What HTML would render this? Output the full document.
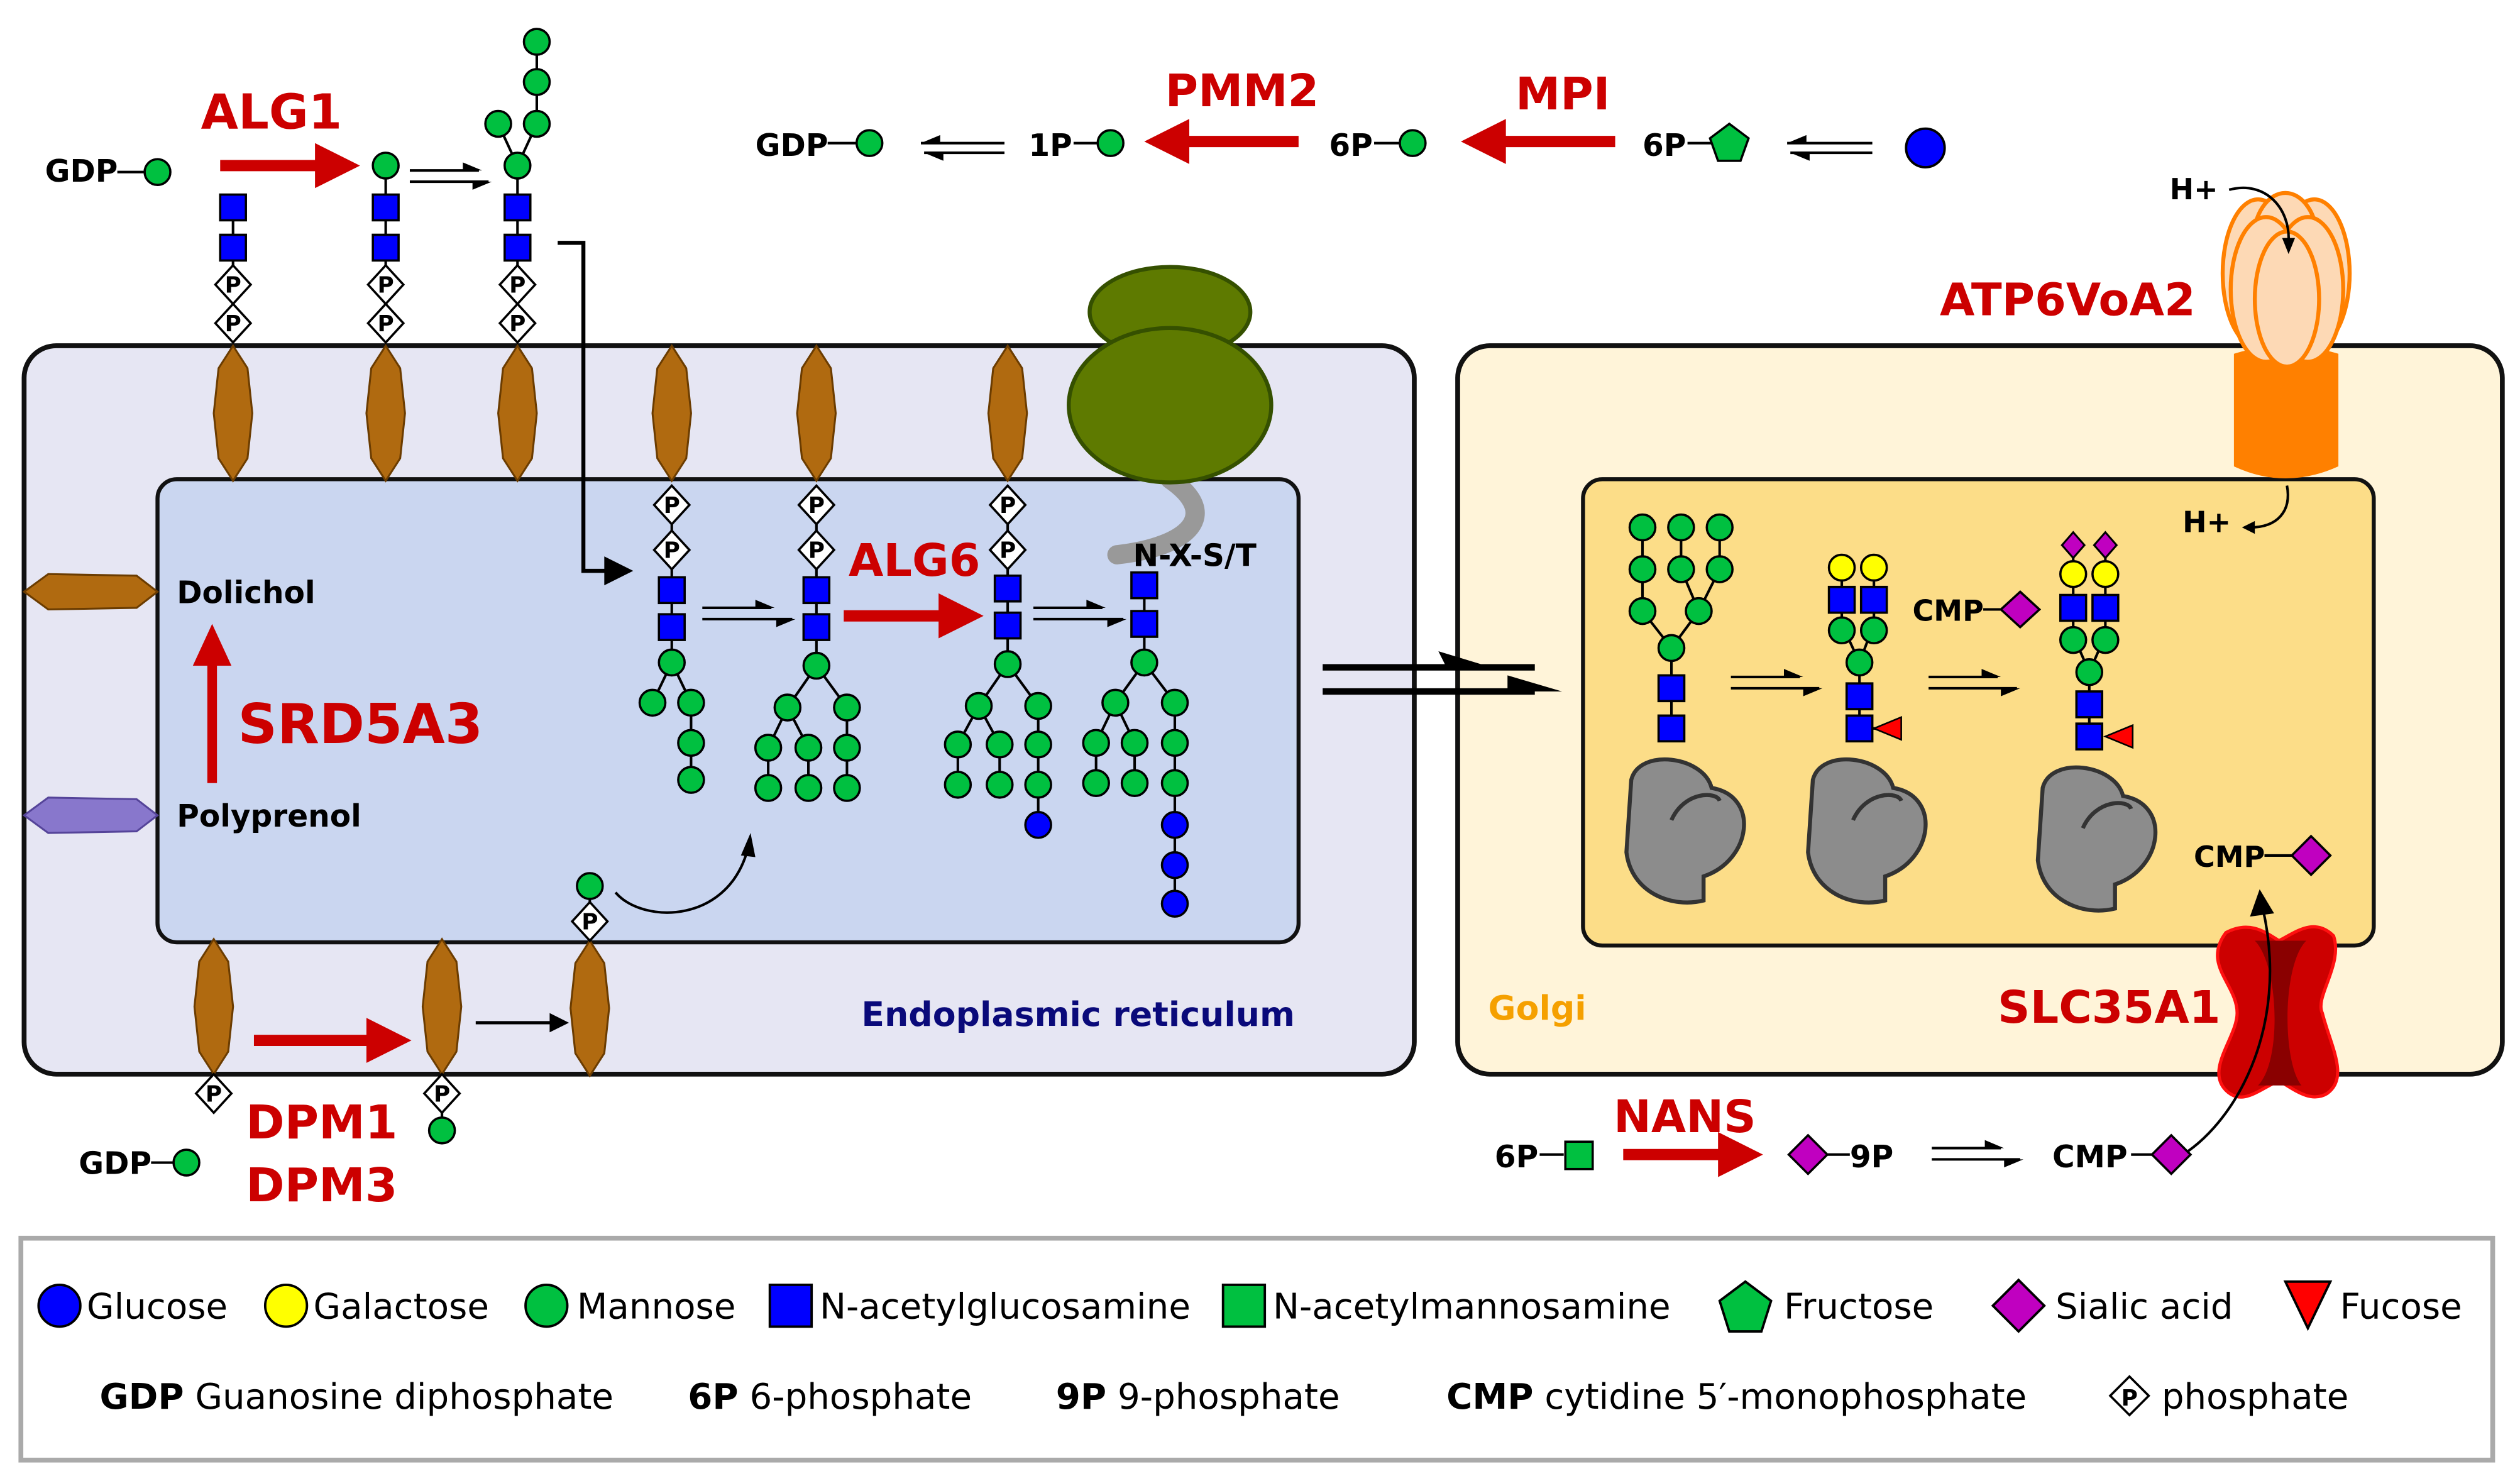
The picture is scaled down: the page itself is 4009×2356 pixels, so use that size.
<!DOCTYPE html>
<html><head><meta charset="utf-8"><style>
html,body{margin:0;padding:0;background:#fff;width:4009px;height:2356px;overflow:hidden}
svg{display:block}
text{font-family:"DejaVu Sans","Liberation Sans",sans-serif}
.b{font-weight:bold}
.r{fill:#cc0000;font-weight:bold}
.ln{stroke:#000;stroke-width:1.6;fill:none}
.m{fill:#00c040;stroke:#000;stroke-width:1.4}
.gl{fill:#0000ff;stroke:#000;stroke-width:1.4}
.y{fill:#ffff00;stroke:#000;stroke-width:1.4}
.pd{fill:#fff;stroke:#000;stroke-width:1.4}
.pt{font-size:14px;font-weight:bold;text-anchor:middle}
.dol{fill:#b06a10;stroke:#6b3c00;stroke-width:1.2}
</style></head><body>
<svg width="4009" height="2356" viewBox="0 0 1568 921" preserveAspectRatio="none" xmlns="http://www.w3.org/2000/svg">
<defs>
<g id="dv"><polygon class="dol" points="0,-42 9,-28 12,0 9,28 0,42 -9,28 -12,0 -9,-28"/></g>
</defs>
<!-- boxes -->
<rect x="15" y="215" width="865" height="453" rx="20" fill="#e6e6f3" stroke="#111" stroke-width="3"/>
<rect x="98" y="298" width="710" height="288" rx="12" fill="#cad6f0" stroke="#111" stroke-width="2.5"/>
<rect x="907" y="215" width="650" height="453" rx="20" fill="#fff4d9" stroke="#111" stroke-width="3"/>
<rect x="985" y="298" width="492" height="290" rx="12" fill="#fcdd88" stroke="#111" stroke-width="2.5"/>
<rect x="13" y="770" width="1538" height="138" fill="#fff" stroke="#aaa" stroke-width="3"/>

<!-- dolichols top -->
<use href="#dv" x="145" y="257"/><use href="#dv" x="240" y="257"/><use href="#dv" x="322" y="257"/>
<use href="#dv" x="418" y="257"/><use href="#dv" x="508" y="257"/><use href="#dv" x="627" y="257"/>
<use href="#dv" x="133" y="626"/><use href="#dv" x="275" y="626"/><use href="#dv" x="367" y="627"/>
<polygon class="dol" points="15,368 30,357 85,358 98,368 85,378 30,379"/>
<polygon points="15,507 30,496 85,497 98,507 85,517 30,518" fill="#8877cc" stroke="#554499" stroke-width="1.2"/>

<!-- ribosome -->
<path d="M728,298 C760,320 740,340 695,345" stroke="#999" stroke-width="12" fill="none" stroke-linecap="round"/>
<ellipse cx="728" cy="194" rx="50" ry="28" fill="#5e7a00" stroke="#355000" stroke-width="2.5"/>
<ellipse cx="728" cy="252" rx="63" ry="48" fill="#5e7a00" stroke="#355000" stroke-width="2.5"/>

<!-- top-left chains -->
<g>
<path class="ln" d="M145,129V201"/>
<rect class="gl" x="137" y="121" width="16" height="16"/><rect class="gl" x="137" y="146" width="16" height="16"/>
<polygon class="pd" points="145,165 156,177 145,189 134,177"/><text class="pt" x="145" y="182">P</text>
<polygon class="pd" points="145,189 156,201 145,213 134,201"/><text class="pt" x="145" y="206">P</text>
<path class="ln" d="M240,103V201"/>
<circle class="m" cx="240" cy="103" r="8"/>
<rect class="gl" x="232" y="121" width="16" height="16"/><rect class="gl" x="232" y="146" width="16" height="16"/>
<polygon class="pd" points="240,165 251,177 240,189 229,177"/><text class="pt" x="240" y="182">P</text>
<polygon class="pd" points="240,189 251,201 240,213 229,201"/><text class="pt" x="240" y="206">P</text>
<path class="ln" d="M334,26V77L322,103V201M310,77L322,103"/>
<circle class="m" cx="334" cy="26" r="8"/><circle class="m" cx="334" cy="51" r="8"/><circle class="m" cx="334" cy="77" r="8"/>
<circle class="m" cx="310" cy="77" r="8"/><circle class="m" cx="322" cy="103" r="8"/>
<rect class="gl" x="314" y="121" width="16" height="16"/><rect class="gl" x="314" y="146" width="16" height="16"/>
<polygon class="pd" points="322,165 333,177 322,189 311,177"/><text class="pt" x="322" y="182">P</text>
<polygon class="pd" points="322,189 333,201 322,213 311,201"/><text class="pt" x="322" y="206">P</text>
</g>
<text class="b" x="28" y="113" font-size="19">GDP</text><path class="ln" d="M73,107H90"/><circle class="m" cx="98" cy="107" r="8"/>
<text class="r" x="125" y="80" font-size="30">ALG1</text>
<path d="M137,103H200" stroke="#cc0000" stroke-width="7"/><polygon points="196,89 224,103 196,117" fill="#cc0000"/>
<path class="ln" d="M255,106H298M255,113H304"/><polygon points="288,101 300,106 288,106"/><polygon points="294,113 306,113 294,118"/>
<!-- bracket arrow -->
<path d="M347,151H363V355H380" stroke="#000" stroke-width="2.5" fill="none"/><polygon points="376,346 394,355 376,364"/>

<!-- top pathway -->
<text class="b" x="470" y="97" font-size="19">GDP</text><path class="ln" d="M515,89H533"/><circle class="m" cx="541" cy="89" r="8"/>
<path class="ln" d="M573,89H625M575,95H625"/><polygon points="573,89 585,84 585,89"/><polygon points="575,95 587,95 587,100"/>
<text class="b" x="640" y="97" font-size="19">1P</text><path class="ln" d="M668,89H683"/><circle class="m" cx="691" cy="89" r="8"/>
<text class="r" x="725" y="66" font-size="28">PMM2</text>
<path d="M808,88H735" stroke="#cc0000" stroke-width="7"/><polygon points="740,74 712,88 740,102" fill="#cc0000"/>
<text class="b" x="827" y="97" font-size="19">6P</text><path class="ln" d="M855,89H871"/><circle class="m" cx="879" cy="89" r="8"/>
<text class="r" x="943" y="68" font-size="28">MPI</text>
<path d="M1005,88H932" stroke="#cc0000" stroke-width="7"/><polygon points="937,74 909,88 937,102" fill="#cc0000"/>
<text class="b" x="1022" y="97" font-size="19">6P</text><path class="ln" d="M1050,89H1066"/>
<polygon points="1076,77 1088,86 1083,100 1069,100 1064,86" fill="#00c040" stroke="#000" stroke-width="1.4"/>
<path class="ln" d="M1112,89H1165M1114,95H1165"/><polygon points="1112,89 1124,84 1124,89"/><polygon points="1114,95 1126,95 1126,100"/>
<circle cx="1198" cy="92" r="12" fill="#0000ff" stroke="#000" stroke-width="1.5"/>

<!-- ER labels -->
<text class="b" x="110" y="375" font-size="19">Dolichol</text>
<text class="b" x="110" y="514" font-size="19">Polyprenol</text>
<path d="M132,487V410" stroke="#cc0000" stroke-width="6"/><polygon points="120,414 132,388 144,414" fill="#cc0000"/>
<text class="r" x="148" y="462" font-size="34">SRD5A3</text>
<text class="b" x="536" y="638" font-size="21" fill="#0a0a7a">Endoplasmic reticulum</text>
<text class="r" x="528" y="358" font-size="28">ALG6</text>
<text class="b" x="705" y="352" font-size="19">N-X-S/T</text>

<!-- ER chains -->
<g>
<path class="ln" d="M418,314V412L406,437M418,412L430,437V485"/>
<polygon class="pd" points="418,302 429,314 418,326 407,314"/><text class="pt" x="418" y="319">P</text>
<polygon class="pd" points="418,330 429,342 418,354 407,342"/><text class="pt" x="418" y="347">P</text>
<rect class="gl" x="410" y="359" width="16" height="16"/><rect class="gl" x="410" y="382" width="16" height="16"/>
<circle class="m" cx="418" cy="412" r="8"/><circle class="m" cx="406" cy="437" r="8"/><circle class="m" cx="430" cy="437" r="8"/>
<circle class="m" cx="430" cy="462" r="8"/><circle class="m" cx="430" cy="485" r="8"/>

<path class="ln" d="M508,314V414L490,440L478,465V490M490,440L503,465V490M508,414L527,440V490"/>
<polygon class="pd" points="508,302 519,314 508,326 497,314"/><text class="pt" x="508" y="319">P</text>
<polygon class="pd" points="508,330 519,342 508,354 497,342"/><text class="pt" x="508" y="347">P</text>
<rect class="gl" x="500" y="359" width="16" height="16"/><rect class="gl" x="500" y="382" width="16" height="16"/>
<circle class="m" cx="508" cy="414" r="8"/><circle class="m" cx="490" cy="440" r="8"/><circle class="m" cx="527" cy="440" r="8"/>
<circle class="m" cx="478" cy="465" r="8"/><circle class="m" cx="503" cy="465" r="8"/><circle class="m" cx="527" cy="465" r="8"/>
<circle class="m" cx="478" cy="490" r="8"/><circle class="m" cx="503" cy="490" r="8"/><circle class="m" cx="527" cy="490" r="8"/>

<path class="ln" d="M627,314V413L609,439L596,463V488M609,439L622,463V488M627,413L646,439V513"/>
<polygon class="pd" points="627,302 638,314 627,326 616,314"/><text class="pt" x="627" y="319">P</text>
<polygon class="pd" points="627,330 638,342 627,354 616,342"/><text class="pt" x="627" y="347">P</text>
<rect class="gl" x="619" y="358" width="16" height="16"/><rect class="gl" x="619" y="381" width="16" height="16"/>
<circle class="m" cx="627" cy="413" r="8"/><circle class="m" cx="609" cy="439" r="8"/><circle class="m" cx="646" cy="439" r="8"/>
<circle class="m" cx="596" cy="463" r="8"/><circle class="m" cx="622" cy="463" r="8"/><circle class="m" cx="646" cy="463" r="8"/>
<circle class="m" cx="596" cy="488" r="8"/><circle class="m" cx="622" cy="488" r="8"/><circle class="m" cx="646" cy="488" r="8"/>
<circle class="gl" cx="646" cy="513" r="8"/>

<path class="ln" d="M712,364V412L694,437L682,462V487M694,437L706,462V487M712,412L731,437V562"/>
<rect class="gl" x="704" y="356" width="16" height="16"/><rect class="gl" x="704" y="380" width="16" height="16"/>
<circle class="m" cx="712" cy="412" r="8"/><circle class="m" cx="694" cy="437" r="8"/><circle class="m" cx="731" cy="437" r="8"/>
<circle class="m" cx="682" cy="462" r="8"/><circle class="m" cx="706" cy="462" r="8"/><circle class="m" cx="731" cy="462" r="8"/>
<circle class="m" cx="682" cy="487" r="8"/><circle class="m" cx="706" cy="487" r="8"/><circle class="m" cx="731" cy="487" r="8"/>
<circle class="gl" cx="731" cy="513" r="8"/><circle class="gl" cx="731" cy="538" r="8"/><circle class="gl" cx="731" cy="562" r="8"/>
</g>
<!-- ER arrows -->
<path class="ln" d="M437,378H480M437,385H493"/><polygon points="470,373 482,378 470,378"/><polygon points="483,385 495,385 483,390"/>
<path d="M525,383H588" stroke="#cc0000" stroke-width="7"/><polygon points="584,369 612,383 584,397" fill="#cc0000"/>
<path class="ln" d="M643,378H686M643,385H699"/><polygon points="676,373 688,378 676,378"/><polygon points="689,385 701,385 689,390"/>
<path class="ln" d="M383,555 C400,575 455,575 466,525"/><polygon points="461,532 467,518 470,533"/>
<!-- dol-P-man in ER -->
<path class="ln" d="M367,551V573"/><circle class="m" cx="367" cy="551" r="8"/>
<polygon class="pd" points="367,561 378,573 367,585 356,573"/><text class="pt" x="367" y="578">P</text>
<!-- bottom DPM -->
<polygon class="pd" points="133,668 144,680 133,692 122,680"/><text class="pt" x="133" y="685">P</text>
<path class="ln" d="M275,680V703"/>
<polygon class="pd" points="275,668 286,680 275,692 264,680"/><text class="pt" x="275" y="685">P</text>
<circle class="m" cx="275" cy="703" r="8"/>
<path d="M158,647H230" stroke="#cc0000" stroke-width="7"/><polygon points="228,633 256,647 228,661" fill="#cc0000"/>
<path d="M296,636H345" stroke="#000" stroke-width="2"/><polygon points="342,630 354,636 342,642"/>
<text class="b" x="49" y="730" font-size="19">GDP</text><path class="ln" d="M94,723H108"/><circle class="m" cx="116" cy="723" r="8"/>
<text class="r" x="153" y="708" font-size="29">DPM1</text>
<text class="r" x="153" y="747" font-size="29">DPM3</text>

<!-- ER -> Golgi arrows -->
<path d="M823,415H955M823,430H955" stroke="#000" stroke-width="4"/>
<polygon points="895,405 928,415 900,415"/><polygon points="938,420 972,430 938,430"/>

<!-- ATP6V0A2 -->
<path d="M1390,220 Q1422,210 1455,220 V290 Q1422,305 1390,290Z" fill="#ff8000"/>
<ellipse cx="1405" cy="170" rx="22" ry="46" fill="#fdd9b5" stroke="#ff8000" stroke-width="2.5"/>
<ellipse cx="1440" cy="170" rx="22" ry="46" fill="#fdd9b5" stroke="#ff8000" stroke-width="2.5"/>
<ellipse cx="1422" cy="150" rx="20" ry="30" fill="#fdd9b5" stroke="#ff8000" stroke-width="2.5"/>
<ellipse cx="1410" cy="180" rx="22" ry="45" fill="#fdd9b5" stroke="#ff8000" stroke-width="2.5"/>
<ellipse cx="1436" cy="180" rx="22" ry="45" fill="#fdd9b5" stroke="#ff8000" stroke-width="2.5"/>
<ellipse cx="1423" cy="186" rx="20" ry="42" fill="#fdd9b5" stroke="#ff8000" stroke-width="2.5"/>
<text class="b" x="1350" y="124" font-size="18">H+</text>
<path class="ln" d="M1387,118 C1410,112 1425,130 1424,150"/><polygon points="1420,148 1424,158 1428,148"/>
<text class="r" x="1207" y="196" font-size="28">ATP6VoA2</text>
<text class="b" x="1358" y="331" font-size="18">H+</text>
<path class="ln" d="M1423,302 C1426,318 1417,328 1400,328"/><polygon points="1403,324 1395,328 1403,332"/>

<!-- Golgi glycans -->
<g>
<path class="ln" d="M1040,453V403L1022,380V328M1040,403L1057,380L1046,354V328M1057,380L1070,354V328"/>
<circle class="m" cx="1022" cy="328" r="8"/><circle class="m" cx="1046" cy="328" r="8"/><circle class="m" cx="1070" cy="328" r="8"/>
<circle class="m" cx="1022" cy="354" r="8"/><circle class="m" cx="1046" cy="354" r="8"/><circle class="m" cx="1070" cy="354" r="8"/>
<circle class="m" cx="1022" cy="380" r="8"/><circle class="m" cx="1057" cy="380" r="8"/><circle class="m" cx="1040" cy="403" r="8"/>
<rect class="gl" x="1032" y="420" width="16" height="16"/><rect class="gl" x="1032" y="445" width="16" height="16"/>

<path class="ln" d="M1157,453V412L1146,388V353M1157,412L1166,388V353M1157,453H1170"/>
<circle class="y" cx="1146" cy="353" r="8"/><circle class="y" cx="1166" cy="353" r="8"/>
<rect class="gl" x="1138" y="365" width="16" height="16"/><rect class="gl" x="1158" y="365" width="16" height="16"/>
<circle class="m" cx="1146" cy="392" r="8"/><circle class="m" cx="1166" cy="392" r="8"/><circle class="m" cx="1157" cy="412" r="8"/>
<rect class="gl" x="1149" y="425" width="16" height="16"/><rect class="gl" x="1149" y="445" width="16" height="16"/>
<polygon points="1166,453 1183,446 1183,460" fill="#f00" stroke="#000" stroke-width="1"/>

<path class="ln" d="M1300,458V418L1290,395V339M1300,418L1310,395V339"/>
<polygon points="1290,331 1297,339 1290,347 1283,339" fill="#c000c0" stroke="#000" stroke-width="1.2"/>
<polygon points="1310,331 1317,339 1310,347 1303,339" fill="#c000c0" stroke="#000" stroke-width="1.2"/>
<circle class="y" cx="1290" cy="357" r="8"/><circle class="y" cx="1310" cy="357" r="8"/>
<rect class="gl" x="1282" y="370" width="16" height="16"/><rect class="gl" x="1302" y="370" width="16" height="16"/>
<circle class="m" cx="1290" cy="398" r="8"/><circle class="m" cx="1310" cy="398" r="8"/><circle class="m" cx="1300" cy="418" r="8"/>
<rect class="gl" x="1292" y="430" width="16" height="16"/><rect class="gl" x="1292" y="450" width="16" height="16"/>
<polygon points="1310,458 1327,451 1327,465" fill="#f00" stroke="#000" stroke-width="1"/>
</g>
<!-- proteins -->
<g fill="#8c8c8c" stroke="#333" stroke-width="2.5">
<path d="M1015,485 C1020,465 1060,470 1065,490 C1095,495 1090,535 1060,545 L1060,560 C1040,565 1015,555 1012,530 Z"/>
<path d="M1128,485 C1133,465 1173,470 1178,490 C1208,495 1203,535 1173,545 L1173,560 C1153,565 1128,555 1125,530 Z"/>
<path d="M1271,490 C1276,470 1316,475 1321,495 C1351,500 1346,540 1316,550 L1316,565 C1296,570 1271,560 1268,535 Z"/>
</g>
<path d="M1040,510 C1048,492 1068,492 1070,498 M1153,510 C1161,492 1181,492 1183,498 M1296,515 C1304,497 1324,497 1326,503" stroke="#333" stroke-width="2.5" fill="none"/>
<path class="ln" d="M1077,421H1120M1077,428H1132"/><polygon points="1110,416 1122,421 1110,421"/><polygon points="1122,428 1134,428 1122,433"/>
<path class="ln" d="M1200,421H1243M1200,428H1255"/><polygon points="1233,416 1245,421 1233,421"/><polygon points="1245,428 1257,428 1245,433"/>
<text class="b" x="1190" y="386" font-size="18">CMP</text><path class="ln" d="M1234,379H1246"/>
<polygon points="1257,368 1269,379 1257,390 1245,379" fill="#c000c0" stroke="#000" stroke-width="1.4"/>
<text class="b" x="1365" y="539" font-size="18">CMP</text><path class="ln" d="M1409,532H1427"/>
<polygon points="1438,520 1450,532 1438,544 1426,532" fill="#c000c0" stroke="#000" stroke-width="1.4"/>
<text class="b" x="926" y="634" font-size="21" fill="#f5a000">Golgi</text>
<text class="r" x="1243" y="636" font-size="28">SLC35A1</text>

<!-- SLC35A1 -->
<path d="M1385,580 C1400,572 1410,580 1418,585 C1428,580 1440,570 1452,582 C1458,600 1440,620 1445,630 C1450,650 1462,670 1448,680 C1438,686 1428,678 1418,672 C1405,678 1395,688 1385,678 C1372,665 1392,645 1392,630 C1392,612 1370,600 1385,580 Z" fill="#cc0000" stroke="#ff1010" stroke-width="2"/>
<path d="M1403,585 C1418,600 1420,660 1405,675 L1432,675 C1420,660 1420,600 1435,585 Z" fill="#8a0000"/>
<path class="ln" d="M1355,720 C1390,700 1425,640 1408,565" stroke-width="2.5"/><polygon points="1400,570 1406,553 1415,568"/>

<!-- NANS -->
<text class="b" x="930" y="726" font-size="19">6P</text><path class="ln" d="M958,718H973"/>
<rect x="974" y="710" width="17" height="17" fill="#00c040" stroke="#000" stroke-width="1.4"/>
<text class="r" x="1004" y="704" font-size="28">NANS</text>
<path d="M1010,718H1072" stroke="#cc0000" stroke-width="7"/><polygon points="1069,704 1097,718 1069,732" fill="#cc0000"/>
<polygon points="1125,706 1137,718 1125,730 1113,718" fill="#c000c0" stroke="#000" stroke-width="1.4"/>
<path class="ln" d="M1137,718H1151"/><text class="b" x="1151" y="726" font-size="19">9P</text>
<path class="ln" d="M1202,714H1245M1202,721H1257"/><polygon points="1235,709 1247,714 1235,714"/><polygon points="1247,721 1259,721 1247,726"/>
<text class="b" x="1277" y="726" font-size="19">CMP</text><path class="ln" d="M1326,718H1339"/>
<polygon points="1351,706 1363,718 1351,730 1339,718" fill="#c000c0" stroke="#000" stroke-width="1.4"/>

<!-- legend -->
<g font-size="22">
<circle cx="37" cy="812" r="13" fill="#0000ff" stroke="#000" stroke-width="1.5"/><text x="54" y="820">Glucose</text>
<circle cx="178" cy="812" r="13" fill="#ffff00" stroke="#000" stroke-width="1.5"/><text x="195" y="820">Galactose</text>
<circle cx="340" cy="812" r="13" fill="#00c040" stroke="#000" stroke-width="1.5"/><text x="359" y="820">Mannose</text>
<rect x="479" y="799" width="26" height="26" fill="#0000ff" stroke="#000" stroke-width="1.5"/><text x="510" y="820">N-acetylglucosamine</text>
<rect x="761" y="799" width="26" height="26" fill="#00c040" stroke="#000" stroke-width="1.5"/><text x="792" y="820">N-acetylmannosamine</text>
<polygon points="1086,797 1102,809 1096,828 1076,828 1070,809" fill="#00c040" stroke="#000" stroke-width="1.5"/><text x="1110" y="820">Fructose</text>
<polygon points="1256,796 1272,812 1256,828 1240,812" fill="#c000c0" stroke="#000" stroke-width="1.5"/><text x="1279" y="820">Sialic acid</text>
<polygon points="1422,797 1450,797 1436,826" fill="#f00" stroke="#000" stroke-width="1.5"/><text x="1456" y="820">Fucose</text>
<text x="62" y="876"><tspan font-weight="bold">GDP</tspan>  Guanosine diphosphate</text>
<text x="428" y="876"><tspan font-weight="bold">6P</tspan>  6-phosphate</text>
<text x="657" y="876"><tspan font-weight="bold">9P</tspan>  9-phosphate</text>
<text x="900" y="876"><tspan font-weight="bold">CMP</tspan>  cytidine 5′-monophosphate</text>
<polygon class="pd" points="1325,856 1337,868 1325,880 1313,868"/><text class="pt" x="1325" y="874">P</text>
<text x="1345" y="876">phosphate</text>
</g>
</svg>
</body></html>
